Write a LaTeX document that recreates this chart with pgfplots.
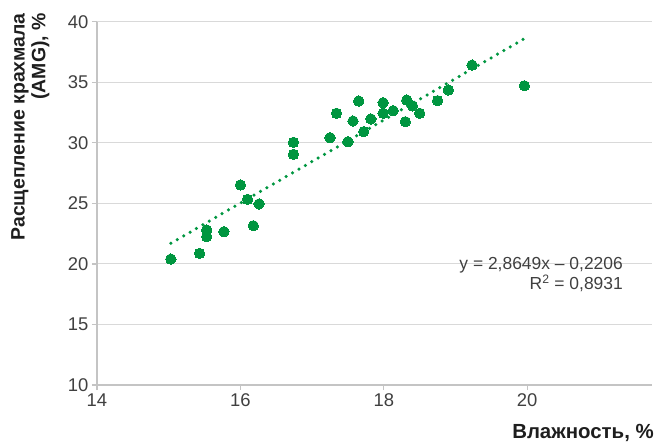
\documentclass[border=0pt]{standalone}
\usepackage{pgfplots}
\pgfplotsset{compat=1.18}
\usepackage{fontspec}
\setmainfont{Liberation Sans}
\definecolor{ptgreen}{RGB}{0,150,64}
\definecolor{gridc}{RGB}{217,217,217}
\definecolor{axc}{RGB}{196,196,196}
\definecolor{txt}{RGB}{64,64,64}
\definecolor{lab}{RGB}{30,30,30}
\begin{document}
\begin{tikzpicture}
\begin{axis}[
  scale only axis, width=555bp, height=363.3bp,
  xmin=14, xmax=21.74, ymin=10, ymax=40,
  xtick={14,16,18,20}, ytick={10,15,20,25,30,35,40},
  axis x line*=bottom, axis y line*=left,
  ymajorgrids, major grid style={gridc, line width=1bp},
  axis line style={axc, line width=1.3bp},
  tick style={axc, line width=1.3bp},
  tick align=outside, major tick length=5bp,
  ticklabel style={font=\fontsize{18.5}{20}\selectfont, text=txt},
  /pgf/number format/assume math mode=true,
  clip=false,
]
\addplot[ptgreen, line width=3.5bp, dash pattern=on 0bp off 7.4bp, line cap=round]
  coordinates {(15.03,21.7) (19.96,38.6)};
\addplot[only marks, mark=*, mark size=5.2bp, mark options={fill=ptgreen, draw=ptgreen, line width=0pt}]
  table {
x y
15.03 20.40
15.43 20.87
15.53 22.25
15.53 22.80
15.77 22.66
16.00 26.52
16.10 25.33
16.26 24.95
16.18 23.15
16.74 30.04
16.74 29.05
17.25 30.42
17.34 32.44
17.50 30.09
17.57 31.80
17.65 33.45
17.72 30.92
17.82 31.97
17.99 33.31
17.99 32.44
18.13 32.65
18.32 33.53
18.40 33.05
18.30 31.74
18.50 32.44
18.75 33.48
18.90 34.36
19.23 36.42
19.96 34.71
};
\end{axis}
\node[anchor=base east, inner sep=0pt, font=\fontsize{17.5}{20}\selectfont, text=txt] at (526bp,115bp) {y = 2,8649x – 0,2206};
\node[anchor=base east, inner sep=0pt, font=\fontsize{17.5}{20}\selectfont, text=txt] at (526bp,95bp) {R\textsuperscript{2} = 0,8931};
\node[rotate=90, anchor=north east, align=right, inner sep=0pt, font=\bfseries\fontsize{19.5}{21}\selectfont, text=lab] at (-86bp,372bp) {Расщепление крахмала\\(AMG), \%};
\node[anchor=base east, inner sep=0pt, font=\bfseries\fontsize{20.5}{22}\selectfont, text=lab] at (557bp,-53bp) {Влажность, \%};
\pgfresetboundingbox
\path (-97bp,-57bp) rectangle (557bp,385bp);
\end{tikzpicture}
\end{document}
